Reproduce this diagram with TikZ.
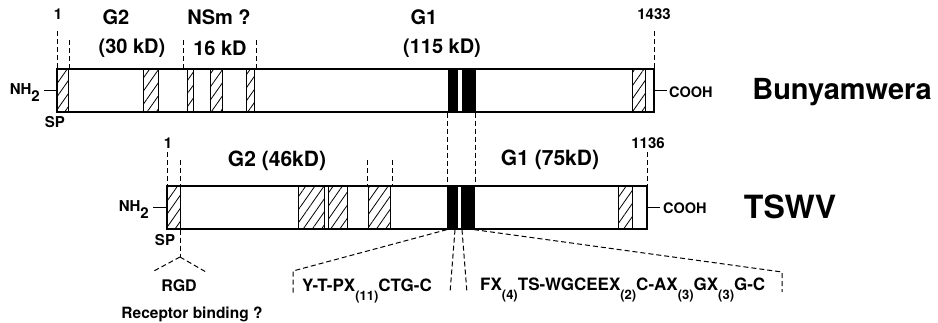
\documentclass[tikz,border=0pt]{standalone}
\usepackage{fontspec}
\setmainfont{TeX Gyre Heros}
\usetikzlibrary{patterns.meta}

\newcommand{\fsz}[1]{\fontsize{#1}{#1}\selectfont\bfseries}
\newcommand{\lowsub}[1]{\raisebox{-9pt}{\fsz{13}#1}}

\tikzset{
  bar/.style={draw, line width=1.2pt, inner sep=0pt},
  hatchbox/.style={draw, line width=0.9pt, pattern={Lines[angle=55,distance=7.5pt,line width=0.8pt]}},
  blackbox/.style={draw, line width=0.9pt, fill=black},
  guide/.style={line width=1pt, dash pattern=on 5pt off 3pt},
  lbl/.style={inner sep=0pt, font=\fsz{#1}},
}

\begin{document}
\begin{tikzpicture}[x=1pt,y=-1pt]
\useasboundingbox (0,0) rectangle (938,322);

% Bunyamwera
\node[bar, minimum width=597pt, minimum height=43pt] (bun) at (355.5,90.5) {};
\foreach \a/\b in {57/68,143/158,187/193,210/222,246/254,632/645}
  \draw[hatchbox] (\a,69) rectangle (\b,112);
\foreach \a/\b in {448/457,462/475}
  \draw[blackbox] (\a,69) rectangle (\b,112);

\node[lbl=15] (n1a) at (58,14) {1};
\node[lbl=20] (g2a) at (116,17) {G2};
\node[lbl=20] (g2akd) at (132,48) {(30 kD)};
\node[lbl=20] (nsm) at (219,17) {NSm ?};
\node[lbl=20] (nsmkd) at (220,48) {16 kD};
\node[lbl=20] (g1a) at (424,17) {G1};
\node[lbl=20] (g1akd) at (442,48) {(115 kD)};
\node[lbl=15] (n1433) at (654,14) {1433};
\node[lbl=15, anchor=base east] (nh2a) at (40,94) {NH\raisebox{-7pt}{2}};
\node[lbl=15] (spa) at (55,122) {SP};
\node[lbl=14.5, anchor=west] (cooha) at (669,92) {COOH};
\node[lbl=29] (bunname) at (842,92) {Bunyamwera};

\draw[line width=1pt] (bun.west) -- ([xshift=4pt]bun.west -| nh2a.east);
\draw[line width=1pt] (bun.east) -- ([xshift=-2pt]bun.east -| cooha.west);

\foreach \x/\t in {57/31,69/40,183/40,256/40,654/31}
  \draw[guide] (\x,\t) -- (\x,\t |- bun.north);

% TSWV
\node[bar, minimum width=480pt, minimum height=43pt] (tsw) at (407,207.5) {};
\foreach \a/\b in {167/180,298/324,328/347,368/390,618/632}
  \draw[hatchbox] (\a,186) rectangle (\b,229);
\foreach \a/\b in {447/457,461/474}
  \draw[blackbox] (\a,186) rectangle (\b,229);

\node[lbl=15] (n1b) at (168,143) {1};
\node[lbl=15] (n1136) at (648,143) {1136};
\node[lbl=21] (g2b) at (277,161) {G2 (46kD)};
\node[lbl=21] (g1b) at (550,160) {G1 (75kD)};
\node[lbl=15, anchor=base east] (nh2b) at (149,211) {NH\raisebox{-7pt}{2}};
\node[lbl=15] (spb) at (165,240) {SP};
\node[lbl=14.5, anchor=west] (coohb) at (663,208) {COOH};
\node[lbl=32] (tswv) at (790,207) {TSWV};

\draw[line width=1pt] (tsw.west) -- ([xshift=4pt]tsw.west -| nh2b.east);
\draw[line width=1pt] (tsw.east) -- ([xshift=-3pt]tsw.east -| coohb.west);

\foreach \x/\t in {167/152,180/160,367/160,392/160,647/152}
  \draw[guide] (\x,\t) -- (\x,\t |- tsw.north);
\foreach \x in {447,475}
  \draw[guide] (\x,0 |- bun.south) -- (\x,0 |- tsw.north);

% RGD motif
\coordinate (rgdtop) at (180,257);
\node[lbl=16] (rgd) at (179,286) {RGD};
\node[lbl=15.5] (rcpt) at (192,314) {Receptor binding ?};
\draw[guide] (180,0 |- tsw.south) -- (rgdtop);
\draw[guide] (rgdtop) -- ++(-28,15);
\draw[guide] (rgdtop) -- ++(26,15);

% sequence motifs
\node[lbl=17, anchor=base west] (seqa) at (302,291) {Y-T-PX\lowsub{(11)}CTG-C};
\node[lbl=17, anchor=base west] (seqb) at (480,290) {FX\lowsub{(4)}TS-WGCEEX\lowsub{(2)}C-AX\lowsub{(3)}GX\lowsub{(3)}G-C};
\coordinate (brkl) at (293,271);
\coordinate (brkr) at (782,272);
\draw[guide] (447,0 |- tsw.south) -- (brkl) -- ++(0,22);
\draw[guide] (474,0 |- tsw.south) -- (brkr) -- ++(0,20);
\draw[guide] (455,0 |- tsw.south) -- (450,293);
\draw[guide] (462,0 |- tsw.south) -- (467,293);
\end{tikzpicture}
\end{document}
